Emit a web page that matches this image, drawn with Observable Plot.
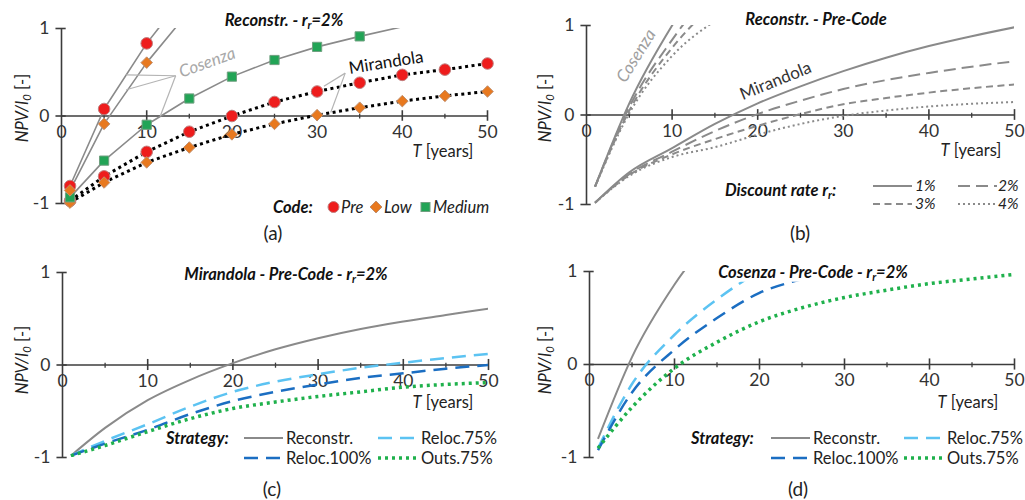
<!DOCTYPE html>
<html><head><meta charset="utf-8">
<script src="https://cdn.jsdelivr.net/npm/d3@7"></script>
<script src="https://cdn.jsdelivr.net/npm/@observablehq/plot@0.6"></script>
<style>
body{margin:0;background:#fff;}
#wrap{position:relative;width:1025px;height:500px;font-family:Lato,"Open Sans",sans-serif;color:#222;overflow:hidden;background:#fff}
.panel{position:absolute}
.t{position:absolute;white-space:nowrap;line-height:1;transform:translate(-50%,-50%)}
.l{position:absolute;white-space:nowrap;line-height:1;transform:translate(0,-50%)}
.bi{font-weight:bold;font-style:italic}
sub{font-size:0.68em;vertical-align:-0.3em;line-height:0}
.ttl{background:#fff;padding:1px 2px;font-size:16.5px;font-weight:bold;font-style:italic;color:#111}
.yl{position:absolute;white-space:nowrap;line-height:1;transform:translate(-50%,-50%) rotate(-90deg);font-size:16.5px;color:#222}
.sw{position:absolute;transform:translate(0,-50%)}
</style></head>
<body><div id="wrap"></div>
<script>
// ---------- data ----------
const years = [1, 5, 10, 15, 20, 25, 30, 35, 40, 45, 50];
const xMajorTicks = [10, 20, 30, 40, 50];
const xMinorTicks = [5, 15, 25, 35, 45];
const xTickLabels = [0, 10, 20, 30, 40, 50];
const yTicks = [-1, 0, 1];

// (a) Reconstr. - rr=2%
const aCosenzaPre = [-0.80, 0.08, 0.83, 1.45];
const aCosenzaLow = [-0.85, -0.09, 0.61, 1.20];
const aCosenzaMedium = [-0.93, -0.51, -0.10, 0.20, 0.45, 0.64, 0.79, 0.91, 1.02];
const aMirandolaPre = [-0.97, -0.69, -0.41, -0.18, 0.00, 0.16, 0.28, 0.38, 0.47, 0.53, 0.60];
const aMirandolaLow = [-0.99, -0.76, -0.53, -0.36, -0.21, -0.09, 0.01, 0.095, 0.17, 0.23, 0.28];

// (b) Reconstr. - Pre-Code, discount rates
const bCosenza1 = [-0.80, 0.13, 1.00, 1.70];
const bCosenza2 = [-0.80, 0.09, 0.84, 1.45];
const bCosenza3 = [-0.80, 0.05, 0.75, 1.25];
const bCosenza4 = [-0.80, 0.02, 0.66, 1.05];
const bMirandola1 = [-0.98, -0.64, -0.37, -0.10, 0.13, 0.32, 0.49, 0.64, 0.77, 0.88, 0.98];
const bMirandola2 = [-0.98, -0.66, -0.41, -0.18, 0.01, 0.16, 0.29, 0.39, 0.47, 0.54, 0.60];
const bMirandola3 = [-0.98, -0.67, -0.44, -0.27, -0.12, 0.01, 0.12, 0.19, 0.25, 0.30, 0.34];
const bMirandola4 = [-0.98, -0.68, -0.47, -0.36, -0.22, -0.10, -0.01, 0.05, 0.095, 0.125, 0.145];

// (c) Mirandola - Pre-Code - rr=2%
const cReconstr = [-0.98, -0.68, -0.38, -0.16, 0.02, 0.17, 0.29, 0.39, 0.47, 0.54, 0.61];
const cReloc75 = [-0.98, -0.82, -0.64, -0.45, -0.29, -0.18, -0.10, -0.03, 0.025, 0.075, 0.12];
const cReloc100 = [-0.98, -0.85, -0.70, -0.53, -0.39, -0.29, -0.21, -0.14, -0.09, -0.04, 0.00];
const cOuts75 = [-0.98, -0.87, -0.72, -0.58, -0.47, -0.40, -0.34, -0.29, -0.24, -0.21, -0.19];

// (d) Cosenza - Pre-Code - rr=2%
const dReconstr = [-0.80, 0.08, 0.86, 1.45];
const dReloc75 = [-0.90, -0.21, 0.32, 0.70, 1.00, 1.20];
const dReloc100 = [-0.92, -0.30, 0.16, 0.50, 0.77, 0.92, 1.05];
const dOuts75 = [-0.90, -0.46, -0.04, 0.24, 0.46, 0.61, 0.72, 0.80, 0.87, 0.92, 0.97];

// annotations (data units)
const aCosenzaLabel = [17.1, 0.61];
const aCosenzaLeaderFrom = [13.4, 0.46];
const aCosenzaLeaderToT = [7.6, 7.6, 11.6];
const aCosenzaLeaderToV = [0.47, 0.30, 0.00];
const aMirandolaLabel = [38.1, 0.61];
const aMirandolaLeaderFrom = [33.3, 0.49];
const aMirandolaLeaderToT = [30.8, 31.6];
const aMirandolaLeaderToV = [0.34, 0.04];
const bCosenzaLabel = [5.8, 0.66];
const bMirandolaLabel = [22.1, 0.38];

// ---------- helpers ----------
const pts = (V) => V.map((v, i) => ({T: years[i], v}));
const axisColor = "#3c3c3c";
const grayLine = "#8a8a8a";
const cRed = "#ee1c1c", cOrange = "#e8791f", cGreen = "#22a456";
const cLight = "#5cc3f2", cDark = "#1b6ec2", cGreenDot = "#1fb14c";

function axes() {
  return [
    Plot.ruleY([0], {x1: 0, x2: 50, stroke: axisColor, strokeWidth: 1.6}),
    Plot.ruleX([0], {y1: -1, y2: 1, stroke: axisColor, strokeWidth: 1.6}),
    Plot.ruleX(xMajorTicks, {x: d => d, y1: -0.06, y2: 0.06, stroke: axisColor, strokeWidth: 1.6}),
    Plot.ruleX(xMinorTicks, {x: d => d, y1: -0.035, y2: 0.02, stroke: axisColor, strokeWidth: 1.3}),
    Plot.ruleY(yTicks, {y: d => d, x1: -0.65, x2: 0.55, stroke: axisColor, strokeWidth: 1.6}),
    Plot.text(xTickLabels, {x: d => d, y: 0, dy: 16, text: d => String(d), fontSize: 17.5, fill: "#333"}),
    Plot.text(yTicks, {x: 0, y: d => d, dx: -12, textAnchor: "end", text: d => String(d), fontSize: 17.5, fill: "#333"})
  ];
}
function mk(marks, m) {
  return Plot.plot({
    width: m.w, height: 250,
    marginLeft: m.l, marginRight: m.r, marginTop: m.t, marginBottom: m.b,
    x: {domain: [0, 50], axis: null},
    y: {domain: [-1, 1], axis: null},
    style: {fontFamily: "Lato, 'Open Sans', sans-serif", background: "transparent", overflow: "visible"},
    marks: [...axes(), ...marks]
  });
}
const ln = (V, o) => Plot.line(pts(V), {x: "T", y: "v", clip: true, strokeLinecap: "butt", strokeLinejoin: "round", ...o});

// ---------- panel (a) ----------
const dotsA = (V, o) => Plot.dot(pts(V), {x: "T", y: "v", filter: d => d.v <= 1.0, ...o});
const pa = mk([
  ln(aMirandolaPre, {stroke: "#000", strokeWidth: 3, strokeDasharray: "3,3.5"}),
  ln(aMirandolaLow, {stroke: "#000", strokeWidth: 3, strokeDasharray: "3,3.5"}),
  ln(aCosenzaPre, {stroke: grayLine, strokeWidth: 1.6}),
  ln(aCosenzaLow, {stroke: grayLine, strokeWidth: 1.6}),
  ln(aCosenzaMedium, {stroke: grayLine, strokeWidth: 1.6}),
  Plot.link(aCosenzaLeaderToT, {x1: () => aCosenzaLeaderFrom[0], y1: () => aCosenzaLeaderFrom[1], x2: d => d, y2: (d, i) => aCosenzaLeaderToV[i], stroke: "#b4b4b4", strokeWidth: 1.2}),
  Plot.link(aMirandolaLeaderToT, {x1: () => aMirandolaLeaderFrom[0], y1: () => aMirandolaLeaderFrom[1], x2: d => d, y2: (d, i) => aMirandolaLeaderToV[i], stroke: "#b4b4b4", strokeWidth: 1.2}),
  dotsA(aMirandolaPre, {symbol: "circle", r: 5.8, fill: cRed, stroke: "#c08080", strokeWidth: 1}),
  dotsA(aMirandolaLow, {symbol: "diamond2", r: 5.2, fill: cOrange, stroke: "#c09070", strokeWidth: 1}),
  dotsA(aCosenzaMedium, {symbol: "square", r: 5.2, fill: cGreen, stroke: "#70a080", strokeWidth: 1}),
  dotsA(aCosenzaPre, {symbol: "circle", r: 5.8, fill: cRed, stroke: "#c08080", strokeWidth: 1}),
  dotsA(aCosenzaLow, {symbol: "diamond2", r: 5.2, fill: cOrange, stroke: "#c09070", strokeWidth: 1}),
  Plot.text([aCosenzaLabel], {x: d => d[0], y: d => d[1], text: () => "Cosenza", rotate: -20, fontSize: 17, fontStyle: "italic", fill: "#a8a8a8"}),
  Plot.text([aMirandolaLabel], {x: d => d[0], y: d => d[1], text: () => "Mirandola", rotate: -9, fontSize: 17, fill: "#111"})
], {w: 512, l: 61, r: 25, t: 28, b: 47});

// ---------- panel (b) ----------
const dashB = ["none", "12,6", "7,4.5", "2,3"];
const pb = mk([
  ...[bMirandola1, bMirandola2, bMirandola3, bMirandola4].map((V, i) =>
    ln(V, {stroke: grayLine, strokeWidth: 2, strokeDasharray: dashB[i], curve: "monotone-x"})),
  ...[bCosenza1, bCosenza2, bCosenza3, bCosenza4].map((V, i) =>
    ln(V, {stroke: grayLine, strokeWidth: 2, strokeDasharray: dashB[i], curve: "monotone-x"})),
  Plot.text([bCosenzaLabel], {x: d => d[0], y: d => d[1], text: () => "Cosenza", rotate: -58, fontSize: 17, fontStyle: "italic", fill: "#a0a0a0"}),
  Plot.text([bMirandolaLabel], {x: d => d[0], y: d => d[1], text: () => "Mirandola", rotate: -22, fontSize: 17, fill: "#333"})
], {w: 513, l: 74, r: 11, t: 25, b: 46});

// ---------- panel (c) ----------
const pc = mk([
  ln(cReconstr, {stroke: grayLine, strokeWidth: 2, curve: "monotone-x"}),
  ln(cReloc75, {stroke: cLight, strokeWidth: 2.5, strokeDasharray: "14,8", curve: "monotone-x"}),
  ln(cReloc100, {stroke: cDark, strokeWidth: 2.5, strokeDasharray: "14,8", curve: "monotone-x"}),
  ln(cOuts75, {stroke: cGreenDot, strokeWidth: 3.5, strokeDasharray: "3,4", curve: "monotone-x"})
], {w: 512, l: 62, r: 24, t: 22, b: 43});

// ---------- panel (d) ----------
const pd = mk([
  ln(dReconstr, {stroke: grayLine, strokeWidth: 2, curve: "monotone-x"}),
  ln(dReloc75, {stroke: cLight, strokeWidth: 2.5, strokeDasharray: "14,8", curve: "monotone-x"}),
  ln(dReloc100, {stroke: cDark, strokeWidth: 2.5, strokeDasharray: "14,8", curve: "monotone-x"}),
  ln(dOuts75, {stroke: cGreenDot, strokeWidth: 3.5, strokeDasharray: "3,4", curve: "monotone-x"})
], {w: 513, l: 77, r: 11, t: 21, b: 43});

// ---------- assemble ----------
const wrap = document.getElementById("wrap");
function place(el, left, top) {
  const d = document.createElement("div");
  d.className = "panel"; d.style.left = left + "px"; d.style.top = top + "px";
  d.appendChild(el); wrap.appendChild(d);
}
place(pa, 0, 0); place(pb, 512, 0); place(pc, 0, 250); place(pd, 512, 250);

function txt(html, x, y, cls, style) {
  const d = document.createElement("div");
  d.className = cls; d.innerHTML = html;
  d.style.left = x + "px"; d.style.top = y + "px";
  if (style) d.style.cssText += style;
  wrap.appendChild(d); return d;
}
function sw(svgInner, x, y, w, h) {
  const d = document.createElement("div");
  d.className = "sw"; d.style.left = x + "px"; d.style.top = y + "px";
  d.innerHTML = `<svg width="${w}" height="${h}" style="display:block">${svgInner}</svg>`;
  wrap.appendChild(d);
}
const yLab = `<i>NPV/I<sub>0</sub></i> [-]`;
const xLab = `<i>T</i> [years]`;
const FS = "font-size:16.5px;";
const FSb = "font-size:15.5px;";

// titles
txt(`Reconstr. - r<sub>r</sub>=2%`, 284, 20, "t ttl");
txt(`Reconstr. - Pre-Code`, 816, 19, "t ttl");
txt(`Mirandola - Pre-Code - r<sub>r</sub>=2%`, 286, 274, "t ttl");
txt(`Cosenza - Pre-Code - r<sub>r</sub>=2%`, 813, 272, "t ttl");

// axis labels
txt(yLab, 22, 108, "yl"); txt(yLab, 545, 108, "yl");
txt(yLab, 22, 360, "yl"); txt(yLab, 545, 360, "yl");
txt(xLab, 443, 151, "t", FS + "color:#222");
txt(xLab, 971, 150, "t", FS + "color:#222");
txt(xLab, 443, 402, "t", FS + "color:#222");
txt(xLab, 968, 402, "t", FS + "color:#222");

// panel letters
txt("(a)", 273, 232, "t", "font-size:19px;color:#222");
txt("(b)", 800, 232, "t", "font-size:19px;color:#222");
txt("(c)", 272, 488, "t", "font-size:19px;color:#222");
txt("(d)", 798, 488, "t", "font-size:19px;color:#222");

// legend (a)
txt("Code:", 273, 207, "l bi", FS + "color:#111");
sw(`<circle cx="6.5" cy="6.5" r="5.5" fill="${cRed}" stroke="#c08080"/>`, 327, 207, 13, 13);
txt("Pre", 341, 207, "l", FS + "font-style:italic");
sw(`<path d="M7,1 L13,7 L7,13 L1,7Z" fill="${cOrange}" stroke="#c09070"/>`, 369, 207, 14, 14);
txt("Low", 384, 207, "l", FS + "font-style:italic");
sw(`<rect x="1" y="1" width="9" height="9" fill="${cGreen}" stroke="#70a080"/>`, 420, 207, 11, 11);
txt("Medium", 433, 207, "l", FS + "font-style:italic");

// legend (b)
txt(`Discount rate r<sub>r</sub>:`, 725, 190, "l bi", FS + "color:#111");
const lineSw = (x, y, stroke, w, dash) => sw(`<line x1="0" y1="4" x2="39" y2="4" stroke="${stroke}" stroke-width="${w}" stroke-linecap="butt" ${dash ? `stroke-dasharray="${dash}"` : ""}/>`, x, y, 40, 8);
lineSw(873, 186, grayLine, 2, null); txt("1%", 915, 186, "l", FSb + "font-style:italic");
lineSw(958, 186, grayLine, 2, "12,6"); txt("2%", 998, 186, "l", FSb + "font-style:italic");
lineSw(873, 204, grayLine, 2, "7,4.5"); txt("3%", 915, 204, "l", FSb + "font-style:italic");
lineSw(958, 204, grayLine, 2, "2,3"); txt("4%", 998, 204, "l", FSb + "font-style:italic");

// legends (c),(d)
function stratLegend(sx, x1, x2) {
  txt("Strategy:", sx, 438, "l bi", FS + "color:#111");
  lineSw(x1, 438, grayLine, 2, null); txt("Reconstr.", x1 + 42, 438, "l", FS);
  lineSw(x2, 438, cLight, 2.5, "14,8"); txt("Reloc.75%", x2 + 43, 438, "l", FS);
  lineSw(x1, 458, cDark, 2.5, "14,8"); txt("Reloc.100%", x1 + 42, 458, "l", FS);
  lineSw(x2, 458, cGreenDot, 3.5, "3,4"); txt("Outs.75%", x2 + 43, 458, "l", FS);
}
stratLegend(166, 244, 378);
stratLegend(691, 771, 904);
</script></body></html>
